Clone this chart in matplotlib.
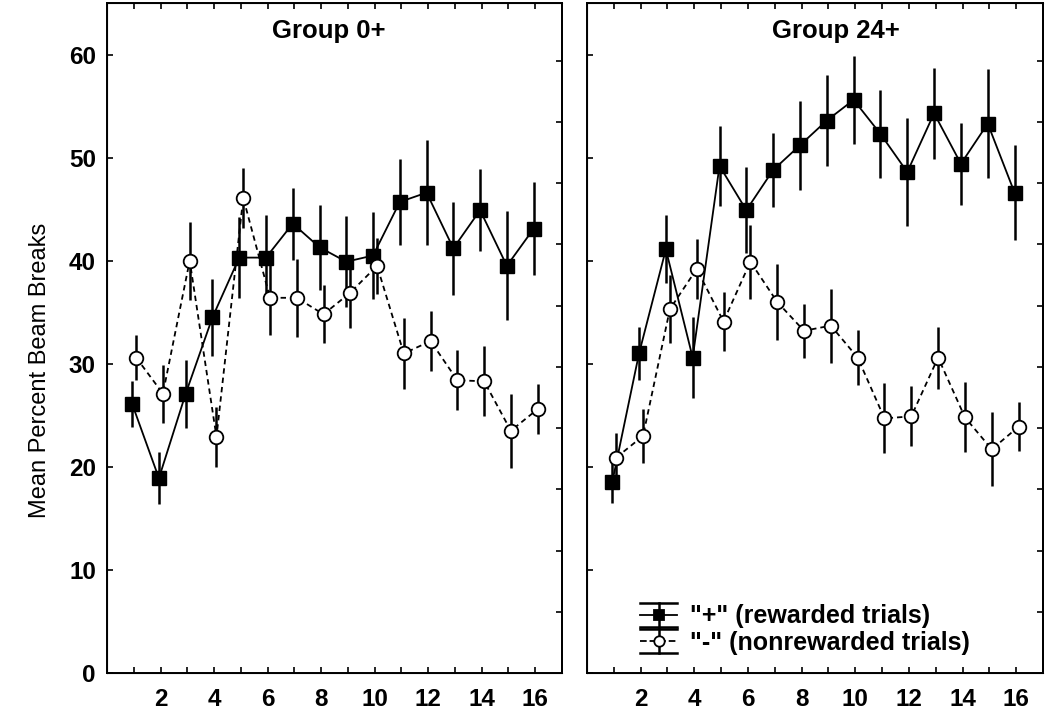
import matplotlib
matplotlib.use("Agg")
import matplotlib.pyplot as plt
import numpy as np
from matplotlib.legend_handler import HandlerBase
from matplotlib.lines import Line2D

plt.rcParams['font.family'] = ['Liberation Sans', 'DejaVu Sans']

sessions = list(range(1, 17))
tick_labels = ['' if s % 2 else str(s) for s in sessions]

g0_rew = [26.1, 18.9, 27.1, 34.5, 40.3, 40.3, 43.6, 41.3, 39.9, 40.5, 45.7, 46.6, 41.2, 44.9, 39.5, 43.1]
g0_rew_se = [2.2, 2.5, 3.3, 3.7, 3.9, 4.1, 3.5, 4.1, 4.4, 4.2, 4.2, 5.1, 4.5, 4.0, 5.3, 4.5]
g0_non = [30.6, 27.1, 40.0, 22.9, 46.1, 36.4, 36.4, 34.8, 36.9, 39.5, 31.0, 32.2, 28.4, 28.3, 23.5, 25.6]
g0_non_se = [2.2, 2.8, 3.8, 2.9, 2.9, 3.6, 3.8, 2.8, 3.4, 2.7, 3.4, 2.9, 2.9, 3.4, 3.6, 2.4]

g24_rew = [18.5, 31.0, 41.1, 30.6, 49.2, 44.9, 48.8, 51.2, 53.6, 55.6, 52.3, 48.6, 54.3, 49.4, 53.3, 46.6]
g24_rew_se = [2.0, 2.6, 3.3, 3.9, 3.9, 4.2, 3.6, 4.3, 4.4, 4.3, 4.3, 5.2, 4.4, 4.0, 5.3, 4.6]
g24_non = [20.9, 23.0, 35.3, 39.2, 34.1, 39.9, 36.0, 33.2, 33.7, 30.6, 24.7, 24.9, 30.6, 24.8, 21.7, 23.9]
g24_non_se = [2.4, 2.6, 3.3, 2.9, 2.9, 3.6, 3.7, 2.6, 3.6, 2.7, 3.4, 2.9, 3.0, 3.4, 3.6, 2.4]

titles = ['Group 0+', 'Group 24+']
legend_labels = ['"+" (rewarded trials)', '"-" (nonrewarded trials)']

panels = [
    (g0_rew, g0_rew_se, g0_non, g0_non_se),
    (g24_rew, g24_rew_se, g24_non, g24_non_se),
]


class HandlerEB(HandlerBase):
    def __init__(self, marker, mfc, ls):
        super().__init__()
        self.marker = marker
        self.mfc = mfc
        self.ls = ls

    def create_artists(self, legend, orig_handle, xdescent, ydescent,
                       width, height, fontsize, trans):
        x0 = -xdescent
        x1 = -xdescent + width
        cx = (x0 + x1) / 2
        cy = -ydescent + height / 2
        h = 0.48 * fontsize
        arts = []
        arts.append(Line2D([x0, x1], [cy, cy], color='black', lw=1.3, ls=self.ls))
        arts.append(Line2D([cx, cx], [cy - h, cy + h], color='black', lw=1.8))
        arts.append(Line2D([x0, x1], [cy + h, cy + h], color='black', lw=1.8))
        arts.append(Line2D([x0, x1], [cy - h, cy - h], color='black', lw=1.8))
        arts.append(Line2D([cx], [cy], marker=self.marker, ms=7.5, mfc=self.mfc,
                           mec='black', mew=1.3, ls='none'))
        for a in arts:
            a.set_transform(trans)
        return arts


fig = plt.figure(figsize=(10.5, 7.14), dpi=100)
axes_rects = [
    [107 / 1050, 1 - 673 / 714, 455 / 1050, 670 / 714],
    [587 / 1050, 1 - 673 / 714, 456 / 1050, 670 / 714],
]
title_x = [0.487, 0.545]

x = np.array(sessions, dtype=float)
for i, (rew, rew_se, non, non_se) in enumerate(panels):
    ax = fig.add_axes(axes_rects[i])
    e1 = ax.errorbar(x - 0.06, rew, yerr=rew_se, color='black', lw=1.3,
                     marker='s', ms=9.8, mfc='black', mec='black',
                     elinewidth=1.8, capsize=0, zorder=3)
    e2 = ax.errorbar(x + 0.09, non, yerr=non_se, color='black', lw=1.3, ls='--',
                     dashes=(3, 2.2), marker='o', ms=9.8, mfc='white', mec='black',
                     mew=1.3, elinewidth=1.8, capsize=0, zorder=4)
    ax.set_xlim(0, 17)
    ax.set_ylim(0, 65)
    ax.set_xticks(sessions)
    ax.set_xticklabels(tick_labels)
    ax.set_yticks(range(0, 61, 10))
    ax.tick_params(direction='in', length=4, width=1.2, top=True,
                   labelsize=17.5, pad=8)
    ax.tick_params(axis='x', pad=11)
    for lab in ax.get_xticklabels() + ax.get_yticklabels():
        lab.set_fontweight('bold')
    if i == 1:
        ax.tick_params(labelleft=False)
    else:
        ax.set_ylabel('Mean Percent Beam Breaks', fontsize=17)
        ax.yaxis.set_label_coords(-0.123, 0.452)
    for sp in ax.spines.values():
        sp.set_linewidth(1.4)
    ax.text(title_x[i], 0.958, titles[i], transform=ax.transAxes,
            ha='center', va='center', fontsize=18.5, fontweight='bold')

    ax2 = ax.twinx()
    ax2.set_ylim(0, 65 / 5.94)
    ax2.set_yticks(range(1, 11))
    ax2.tick_params(direction='in', length=4, width=1.2, labelright=False)
    ax2.spines['right'].set_linewidth(1.4)

    if i == 1:
        leg = ax2.legend([e1, e2], legend_labels,
                         handler_map={e1: HandlerEB('s', 'black', '-'),
                                      e2: HandlerEB('o', 'white', '--')},
                         loc='lower left', bbox_to_anchor=(0.116, 0.027),
                         frameon=False, borderpad=0, borderaxespad=0,
                         handlelength=1.5, handletextpad=0.5, labelspacing=0.1,
                         prop={'size': 18, 'weight': 'bold'})

fig.savefig('out.png', dpi=100)
